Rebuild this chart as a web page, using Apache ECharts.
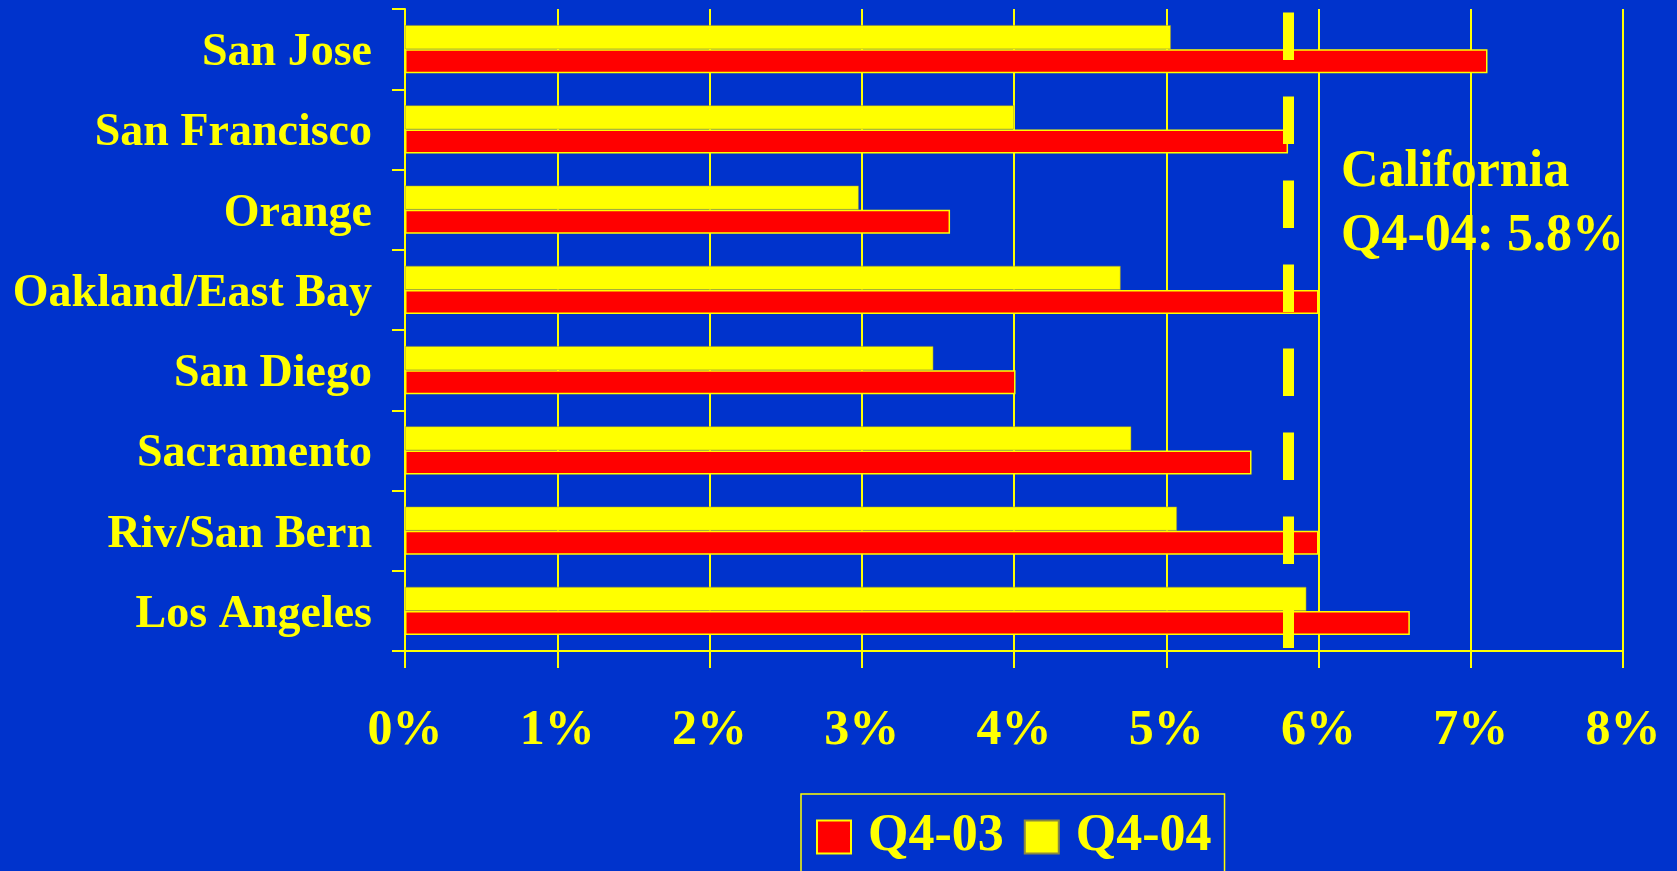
<!DOCTYPE html>
<html>
<head>
<meta charset="utf-8">
<script src="https://cdn.jsdelivr.net/npm/echarts@6/dist/echarts.min.js"></script>
<style>
html,body{margin:0;padding:0;background:#0033CC;}
#chart{width:1677px;height:871px;}
</style>
</head>
<body>
<div id="chart"></div>
<script>
// Categories listed bottom to top (as drawn by ECharts' category y axis)
const categories = ['Los Angeles','Riv/San Bern','Sacramento','San Diego','Oakland/East Bay','Orange','San Francisco','San Jose'];
const q403 = [6.6, 6.0, 5.56, 4.01, 6.0, 3.58, 5.8, 7.11];
const q404 = [5.92, 5.07, 4.77, 3.47, 4.7, 2.98, 4.0, 5.03];
const seriesNames = ['Q4-03','Q4-04'];
const californiaRate = 5.8;
const annotationLines = ['California', 'Q4-04: 5.8%'];

const YELLOW = '#FFFF00';
const RED = '#FF0000';
const BLUE = '#0033CC';
const FONT = "'Liberation Serif', 'Times New Roman', serif";

const chart = echarts.init(document.getElementById('chart'));
chart.setOption({
  backgroundColor: BLUE,
  animation: false,
  grid: {left: 405, right: 54, top: 9, bottom: 220, containLabel: false},
  legend: {
    data: seriesNames,
    left: 801, top: 794,
    orient: 'horizontal',
    icon: 'rect',
    itemWidth: 34, itemHeight: 33, itemGap: 20,
    padding: [17, 13, 10, 15],
    borderColor: YELLOW, borderWidth: 1.5,
    backgroundColor: BLUE,
    textStyle: {color: YELLOW, fontFamily: FONT, fontWeight: 'bold', fontSize: 52, padding: [0, 0, 0, 12]}
  },
  xAxis: {
    type: 'value', min: 0, max: 8, interval: 1,
    axisLine: {show: true, lineStyle: {color: YELLOW, width: 2}},
    axisTick: {show: true, length: 17, lineStyle: {color: YELLOW, width: 2}},
    splitLine: {show: true, lineStyle: {color: YELLOW, width: 2}},
    axisLabel: {color: YELLOW, fontFamily: FONT, fontWeight: 'bold', fontSize: 50, margin: 55, formatter: '{value}%'}
  },
  yAxis: {
    type: 'category', data: categories,
    axisLine: {show: true, lineStyle: {color: YELLOW, width: 2}},
    axisTick: {show: true, length: 13, lineStyle: {color: YELLOW, width: 2}},
    axisLabel: {color: YELLOW, fontFamily: FONT, fontWeight: 'bold', fontSize: 46, margin: 33, verticalAlign: 'top', lineHeight: 8}
  },
  series: [
    {
      name: seriesNames[1], type: 'bar', data: q404, barWidth: 24, barGap: '0%',
      itemStyle: {color: YELLOW, borderColor: '#8a8a40', borderWidth: 0.5}
    },
    {
      name: seriesNames[0], type: 'bar', data: q403, barWidth: 24, barGap: '0%',
      itemStyle: {color: RED, borderColor: YELLOW, borderWidth: 1.5},
      markLine: {
        silent: true, symbol: 'none',
        label: {show: false},
        lineStyle: {color: YELLOW, width: 11, type: [47.5, 36.5], dashOffset: 81},
        data: [{xAxis: californiaRate}],
        z: 10
      }
    }
  ],
  graphic: [{
    type: 'text', left: 1341, top: 141,
    style: {text: annotationLines.join('\n'), fill: YELLOW, font: "bold 52px " + FONT, lineHeight: 64}
  }]
});
</script>
</body>
</html>
